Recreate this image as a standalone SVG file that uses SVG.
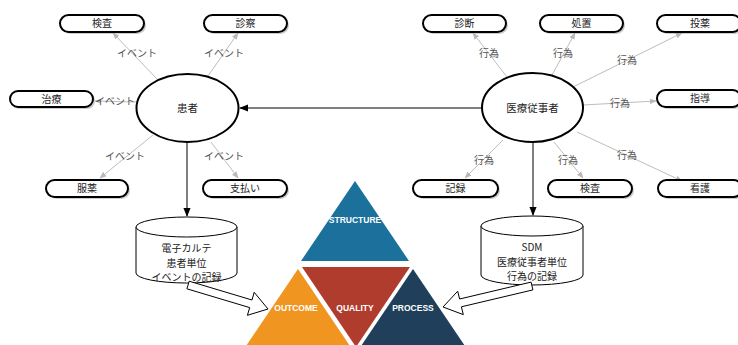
<svg xmlns="http://www.w3.org/2000/svg" width="738" height="345" viewBox="0 0 738 345">
  <defs>
    <marker id="grayHead" viewBox="0 0 10 10" refX="9" refY="5" markerWidth="7" markerHeight="7" orient="auto" markerUnits="userSpaceOnUse">
      <path d="M0,1 L10,5 L0,9 Z" fill="#b8b8b8"/>
    </marker>
    <marker id="blackHead" viewBox="0 0 10 10" refX="9" refY="5" markerWidth="9" markerHeight="9" orient="auto" markerUnits="userSpaceOnUse">
      <path d="M0,1 L10,5 L0,9 Z" fill="#000"/>
    </marker>
  </defs>
  <style>
    .pill { fill: #fff; stroke: #000; stroke-width: 2; }
    .pillShadow { fill: #9a9a9a; opacity: 0.5; }
    .pillText { font-family: "Noto Sans CJK JP", "Noto Sans", sans-serif; font-size: 10px; fill: #222; text-anchor: middle; }
    .edge { stroke: #bdbdbd; stroke-width: 1; fill: none; marker-end: url(#grayHead); }
    .edgeLabel { font-family: "Noto Sans CJK JP", "Noto Sans", sans-serif; font-size: 10px; fill: #555; text-anchor: middle; }
    .actor { fill: #fff; stroke: #000; stroke-width: 2; }
    .actorText { font-family: "Noto Sans CJK JP", "Noto Sans", sans-serif; font-size: 10.5px; fill: #222; text-anchor: middle; }
    .main { stroke: #000; stroke-width: 1; fill: none; marker-end: url(#blackHead); }
    .db { fill: #fff; stroke: #000; stroke-width: 1; }
    .dbText { font-family: "Noto Sans CJK JP", "Noto Sans", sans-serif; font-size: 10px; fill: #222; text-anchor: middle; }
    .block { fill: #fff; stroke: #000; stroke-width: 1; }
    .triText { font-family: "Liberation Sans", Arial, sans-serif; font-size: 8.5px; font-weight: bold; fill: #fff; text-anchor: middle; }
  </style>

  <!-- connectors -->
  <g id="connectors">
    <!-- patient events -->
    <line class="edge" x1="158" y1="80" x2="113" y2="33"/>
    <line class="edge" x1="208" y1="76" x2="238" y2="33"/>
    <line class="edge" x1="137" y1="102" x2="95" y2="101"/>
    <line class="edge" x1="153" y1="135" x2="100" y2="178"/>
    <line class="edge" x1="211" y1="142" x2="238" y2="178"/>
    <!-- staff actions -->
    <line class="edge" x1="507" y1="77" x2="473" y2="33"/>
    <line class="edge" x1="552" y1="75" x2="575" y2="33"/>
    <line class="edge" x1="573" y1="87" x2="682" y2="33"/>
    <line class="edge" x1="583" y1="105" x2="656" y2="101"/>
    <line class="edge" x1="503" y1="140" x2="465" y2="178"/>
    <line class="edge" x1="554" y1="142" x2="583" y2="178"/>
    <line class="edge" x1="577" y1="132" x2="682" y2="181"/>
    <!-- main flows -->
    <line class="main" x1="482" y1="108" x2="240" y2="108"/>
    <line class="main" x1="187" y1="142" x2="187" y2="216"/>
    <line class="main" x1="533" y1="142" x2="533" y2="215"/>

    <g id="edge-labels">
      <text class="edgeLabel" x="137" y="57">イベント</text>
      <text class="edgeLabel" x="224" y="57">イベント</text>
      <text class="edgeLabel" x="115" y="105">イベント</text>
      <text class="edgeLabel" x="125" y="160">イベント</text>
      <text class="edgeLabel" x="224" y="160">イベント</text>
      <text class="edgeLabel" x="489" y="57">行為</text>
      <text class="edgeLabel" x="563" y="57">行為</text>
      <text class="edgeLabel" x="627" y="64">行為</text>
      <text class="edgeLabel" x="620" y="107">行為</text>
      <text class="edgeLabel" x="484" y="164">行為</text>
      <text class="edgeLabel" x="568" y="164">行為</text>
      <text class="edgeLabel" x="627" y="159">行為</text>
    </g>
  </g>

  <!-- quality triangle -->
  <g id="node-structure">
    <polygon points="355,181 301,261 409,261" fill="#1b709c"/>
    <text class="triText" x="355" y="223">STRUCTURE</text>
  </g>
  <g id="node-quality">
    <polygon points="302,267 410,267 356,347" fill="#b03c2e"/>
    <text class="triText" x="355" y="311">QUALITY</text>
  </g>
  <g id="node-outcome">
    <polygon points="298,269 244,349 352,349" fill="#f0951f"/>
    <text class="triText" x="296" y="311">OUTCOME</text>
  </g>
  <g id="node-process">
    <polygon points="413,269 359,349 467,349" fill="#1f3f5a"/>
    <text class="triText" x="413" y="311">PROCESS</text>
  </g>

  <!-- patient side -->
  <g id="node-patient">
    <ellipse class="actor" cx="187.5" cy="108" rx="51" ry="34"/>
    <text class="actorText" x="187.5" y="112">患者</text>
  </g>
  <g id="node-p-kensa">
    <rect class="pillShadow" x="62" y="17" width="84" height="17" rx="8.5"/>
    <rect class="pill" x="60" y="15" width="84" height="17" rx="8.5"/>
    <text class="pillText" x="102" y="27">検査</text>
  </g>
  <g id="node-p-shinsatsu">
    <rect class="pillShadow" x="206" y="17" width="83" height="17" rx="8.5"/>
    <rect class="pill" x="204" y="15" width="83" height="17" rx="8.5"/>
    <text class="pillText" x="245.5" y="27">診察</text>
  </g>
  <g id="node-p-chiryo">
    <rect class="pillShadow" x="12" y="93" width="83" height="16" rx="8"/>
    <rect class="pill" x="10" y="91" width="83" height="16" rx="8"/>
    <text class="pillText" x="51.5" y="102.5">治療</text>
  </g>
  <g id="node-p-fukuyaku">
    <rect class="pillShadow" x="48" y="182" width="82" height="17" rx="8.5"/>
    <rect class="pill" x="46" y="180" width="82" height="17" rx="8.5"/>
    <text class="pillText" x="87" y="192">服薬</text>
  </g>
  <g id="node-p-shiharai">
    <rect class="pillShadow" x="205" y="182" width="84" height="17" rx="8.5"/>
    <rect class="pill" x="203" y="180" width="84" height="17" rx="8.5"/>
    <text class="pillText" x="245" y="192">支払い</text>
  </g>

  <!-- staff side -->
  <g id="node-staff">
    <ellipse class="actor" cx="532.5" cy="107.5" rx="50.5" ry="34.5"/>
    <text class="actorText" x="532.5" y="111.5">医療従事者</text>
  </g>
  <g id="node-s-shindan">
    <rect class="pillShadow" x="425" y="17" width="83" height="17" rx="8.5"/>
    <rect class="pill" x="423" y="15" width="83" height="17" rx="8.5"/>
    <text class="pillText" x="464.5" y="27">診断</text>
  </g>
  <g id="node-s-shochi">
    <rect class="pillShadow" x="542" y="17" width="83" height="17" rx="8.5"/>
    <rect class="pill" x="540" y="15" width="83" height="17" rx="8.5"/>
    <text class="pillText" x="581.5" y="27">処置</text>
  </g>
  <g id="node-s-toyaku">
    <rect class="pillShadow" x="659" y="17" width="84" height="17" rx="8.5"/>
    <rect class="pill" x="657" y="15" width="84" height="17" rx="8.5"/>
    <text class="pillText" x="700" y="27">投薬</text>
  </g>
  <g id="node-s-shido">
    <rect class="pillShadow" x="659" y="92" width="84" height="17" rx="8.5"/>
    <rect class="pill" x="657" y="90" width="84" height="17" rx="8.5"/>
    <text class="pillText" x="700" y="102">指導</text>
  </g>
  <g id="node-s-kiroku">
    <rect class="pillShadow" x="415" y="182" width="85" height="17" rx="8.5"/>
    <rect class="pill" x="413" y="180" width="85" height="17" rx="8.5"/>
    <text class="pillText" x="455.5" y="192">記録</text>
  </g>
  <g id="node-s-kensa">
    <rect class="pillShadow" x="550" y="182" width="84" height="17" rx="8.5"/>
    <rect class="pill" x="548" y="180" width="84" height="17" rx="8.5"/>
    <text class="pillText" x="590" y="192">検査</text>
  </g>
  <g id="node-s-kango">
    <rect class="pillShadow" x="660" y="182" width="84" height="17" rx="8.5"/>
    <rect class="pill" x="658" y="180" width="84" height="17" rx="8.5"/>
    <text class="pillText" x="700" y="192">看護</text>
  </g>

  <!-- record stores -->
  <g id="node-emr">
    <path class="db" d="M136,227 A50.5,10 0 0 1 237,227 L237,273 A50.5,10 0 0 1 136,273 Z"/>
    <path class="db" fill="none" d="M136,227 A50.5,10 0 0 0 237,227"/>
    <text class="dbText" x="186.5" y="252">電子カルテ</text>
    <text class="dbText" x="186.5" y="266.5">患者単位</text>
    <text class="dbText" x="186.5" y="281">イベントの記録</text>
  </g>
  <g id="node-sdm">
    <path class="db" d="M481,226 A51,10 0 0 1 583,226 L583,275 A51,10 0 0 1 481,275 Z"/>
    <path class="db" fill="none" d="M481,226 A51,10 0 0 0 583,226"/>
    <text class="dbText" x="532" y="251">SDM</text>
    <text class="dbText" x="532" y="265.5">医療従事者単位</text>
    <text class="dbText" x="532" y="280">行為の記録</text>
  </g>

  <!-- hollow block arrows into the triangle -->
  <g id="block-arrows">
    <polygon class="block" points="189.2,281.2 252,300 254.2,292.3 268,309 247.4,315.3 249.7,307.6 186.9,288.8"/>
    <polygon class="block" points="531.1,282.1 459.6,299 457.7,291.2 443,307 463.3,314.6 461.4,306.8 532.9,289.9"/>
  </g>
</svg>
